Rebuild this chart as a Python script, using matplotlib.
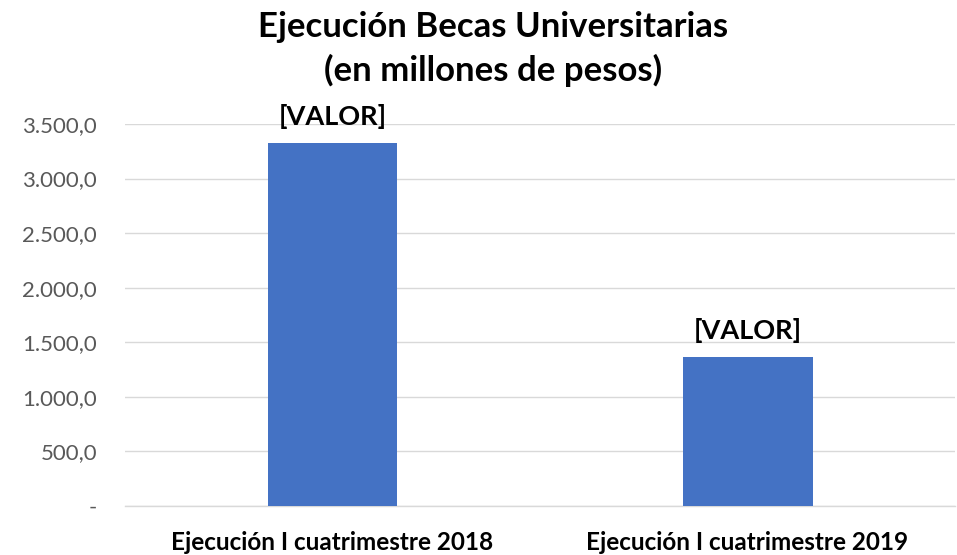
import matplotlib
matplotlib.use("Agg")
import matplotlib.pyplot as plt
from matplotlib.ticker import FuncFormatter

categories = ["Ejecución I cuatrimestre 2018", "Ejecución I cuatrimestre 2019"]
values = [3325.0, 1368.0]
data_labels = ["[VALOR]", "[VALOR]"]
yticks = [0, 500, 1000, 1500, 2000, 2500, 3000, 3500]

FONT = ["Lato", "DejaVu Sans"]
plt.rcParams['font.family'] = FONT

fig = plt.figure(figsize=(9.57, 5.55), dpi=100)
ax = fig.add_axes([0.1306, 0.0883, 0.8674, 0.6883])

x = range(len(categories))
bars = ax.bar(x, values, width=0.313, color="#4472C4", zorder=3)
ax.set_xlim(-0.5, 1.5)
ax.set_ylim(0, 3500)
ax.set_yticks(yticks)

def fmt(v, pos):
    if v == 0:
        return "-"
    s = f"{v:,.1f}"
    return s.replace(",", "X").replace(".", ",").replace("X", ".")

ax.yaxis.set_major_formatter(FuncFormatter(fmt))
ax.grid(axis="y", color="#D9D9D9", linewidth=1.0, zorder=0)
for s in ["top", "right", "left"]:
    ax.spines[s].set_visible(False)
ax.spines["bottom"].set_color("#D9D9D9")
ax.spines["bottom"].set_linewidth(1.0)
ax.tick_params(axis="y", length=0, labelsize=16, labelcolor="#595959", pad=20)
ax.tick_params(axis="x", length=0, labelsize=17.5, pad=18)
ax.set_xticks(list(x))
ax.set_xticklabels(categories, fontweight="bold", color="black")

for b, lab in zip(bars, data_labels):
    ax.annotate(lab, (b.get_x() + b.get_width() / 2, b.get_height()),
                xytext=(0, 10), textcoords="offset points",
                ha="center", va="bottom", fontsize=19.5, fontweight="bold", color="black")

fig.text(0.515, 0.951, "Ejecución Becas Universitarias", ha="center", va="center",
         fontsize=25, fontweight="bold")
fig.text(0.515, 0.873, "(en millones de pesos)", ha="center", va="center",
         fontsize=25, fontweight="bold")

fig.savefig("out.png", dpi=100)
